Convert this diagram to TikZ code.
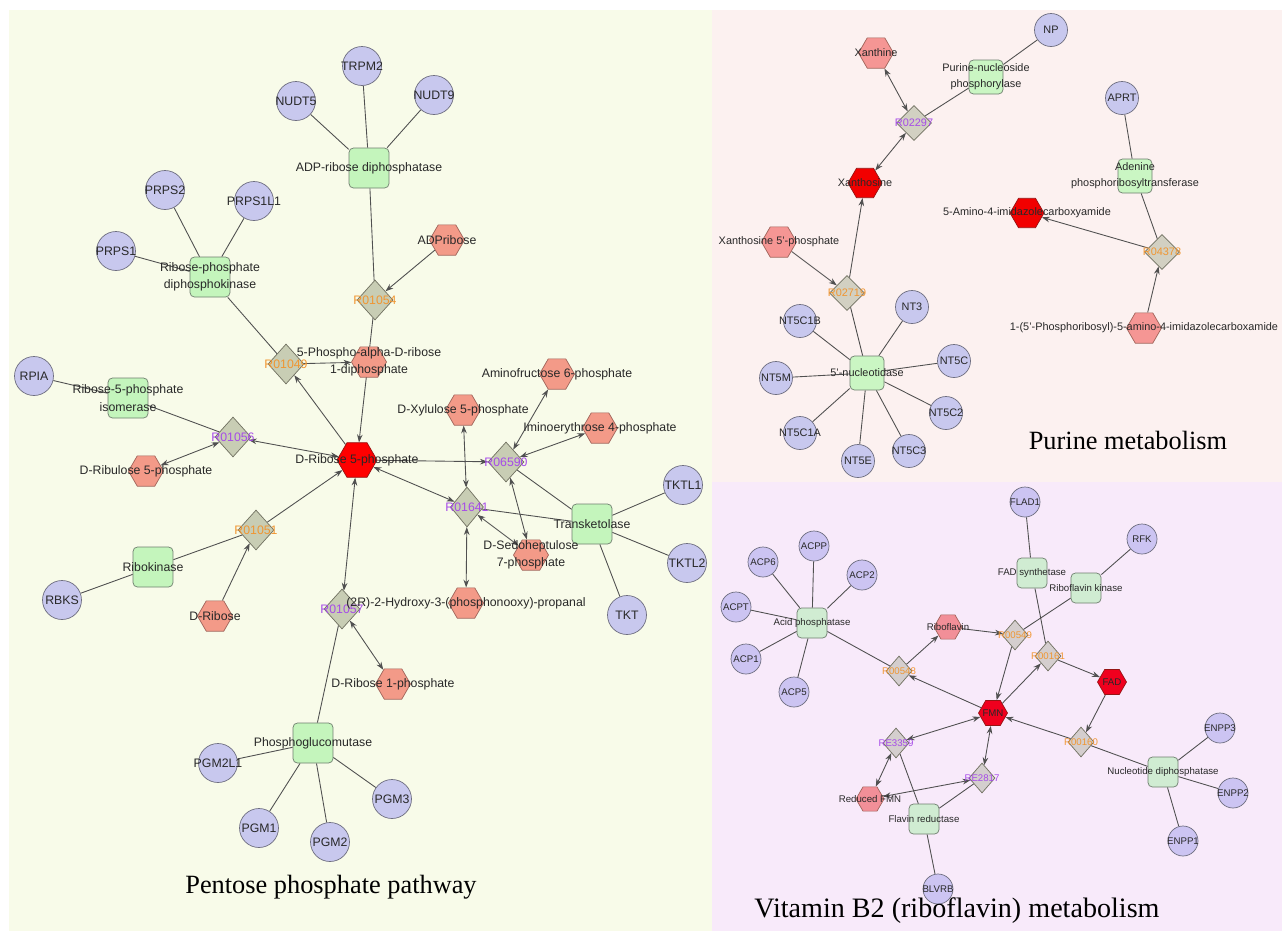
\documentclass[tikz,border=0pt]{standalone}
\usepackage{fontspec}
\setmainfont{Liberation Serif}
\setsansfont{Liberation Sans}
\usetikzlibrary{shapes.geometric,arrows.meta}
\definecolor{bgL}{RGB}{248,251,233}
\definecolor{bgP}{RGB}{252,241,240}
\definecolor{bgV}{RGB}{248,234,250}
\definecolor{edgec}{RGB}{80,80,80}
\definecolor{txt}{RGB}{40,40,40}
\definecolor{genefill}{RGB}{200,200,238}
\definecolor{genedraw}{RGB}{110,110,128}
\definecolor{enzfill}{RGB}{196,245,188}
\definecolor{enzdraw}{RGB}{110,126,110}
\definecolor{cpdfill}{RGB}{243,154,136}
\definecolor{cpddraw}{RGB}{160,100,90}
\definecolor{hubfill}{RGB}{255,0,0}
\definecolor{hubdraw}{RGB}{150,20,20}
\definecolor{rxnfill}{RGB}{200,205,180}
\definecolor{rxndraw}{RGB}{112,112,96}
\definecolor{rxorange}{RGB}{240,150,50}
\definecolor{rxpurple}{RGB}{166,75,232}
\pgfdeclarelayer{panel}
\pgfdeclarelayer{edges}
\pgfsetlayers{panel,edges,main}
\begin{document}
\begin{tikzpicture}[x=0.02cm,y=-0.02cm,
  every label/.style={font=\sffamily\fontsize{7}{10}\selectfont,text=txt,align=center,inner sep=0pt},
  gene/.style={circle,draw=genedraw,fill=genefill,inner sep=0pt,minimum size=0.78cm},
  enz/.style={rectangle,rounded corners=2.5pt,draw=enzdraw,fill=enzfill,inner sep=0pt,minimum size=0.8cm},
  cpd/.style={regular polygon,regular polygon sides=6,draw=cpddraw,fill=cpdfill,inner sep=0pt,minimum size=0.7cm},
  hub/.style={cpd,fill=hubfill,draw=hubdraw,minimum size=0.8cm},
  rxn/.style={diamond,draw=rxndraw,fill=rxnfill,inner sep=0pt,minimum width=0.72cm,minimum height=0.8cm},
  ro/.style={text=rxorange},
  rp/.style={text=rxpurple},
  lk/.style={draw=edgec,line width=0.5pt},
  fwd/.style={lk,-{Stealth[length=4.5pt,width=3.2pt]}},
  bi/.style={lk,{Stealth[length=4.5pt,width=3.2pt]}-{Stealth[length=4.5pt,width=3.2pt]}},
  ttl/.style={font=\fontsize{15}{18}\selectfont}]
\useasboundingbox (0,0) rectangle (1282,931);
\begin{pgfonlayer}{panel}
\fill[white] (0,0) rectangle (1282,931);
\fill[bgL] (9,10) rectangle (712,931);
\fill[bgP] (712,10) rectangle (1282,482);
\fill[bgV] (712,482) rectangle (1282,931);
\end{pgfonlayer}

% pentose phosphate pathway
\node[gene,label=center:TRPM2] (trpm2) at (362,66) {};
\node[gene,label=center:NUDT5] (nudt5) at (296,101) {};
\node[gene,label=center:NUDT9] (nudt9) at (434,95) {};
\node[enz,label=center:ADP-ribose diphosphatase] (adprd) at (369,168) {};
\node[cpd,label=center:ADPribose] (adpr) at (447,240) {};
\node[rxn,label={[ro]center:R01054}] (r01054) at (375,300) {};
\node[gene,label=center:PRPS2] (prps2) at (165,190) {};
\node[gene,label=center:PRPS1L1] (prps1l1) at (254,201) {};
\node[gene,label=center:PRPS1] (prps1) at (116,251) {};
\node[enz,label={center:{Ribose-phosphate\\diphosphokinase}}] (rpdk) at (210,277) {};
\node[rxn,label={[ro]center:R01049}] (r01049) at (286,364) {};
\node[cpd,label={center:{5-Phospho-alpha-D-ribose\\1-diphosphate}}] (prpp) at (369,362) {};
\node[gene,label=center:RPIA] (rpia) at (34,376) {};
\node[enz,label={center:{Ribose-5-phosphate\\isomerase}}] (rpi) at (128,398) {};
\node[rxn,label={[rp]center:R01056}] (r01056) at (233,437) {};
\node[cpd,label=center:D-Ribulose 5-phosphate] (ru5p) at (146,471) {};
\node[hub,label=center:D-Ribose 5-phosphate] (r5p) at (357,460) {};
\node[rxn,label={[ro]center:R01051}] (r01051) at (256,530) {};
\node[enz,label=center:Ribokinase] (rbk) at (153,567) {};
\node[gene,label=center:RBKS] (rbks) at (62,600) {};
\node[cpd,label=center:D-Ribose] (rib) at (215,616) {};
\node[rxn,label={[rp]center:R01057}] (r01057) at (342,609) {};
\node[cpd,label={center:{(2R)-2-Hydroxy-3-(phosphonooxy)-propanal}}] (hpp) at (466,603) {};
\node[cpd,label=center:D-Ribose 1-phosphate] (rib1p) at (393,684) {};
\node[enz,label=center:Phosphoglucomutase] (pgmut) at (313,743) {};
\node[gene,label=center:PGM2L1] (pgm2l1) at (218,763) {};
\node[gene,label=center:PGM1] (pgm1) at (259,828) {};
\node[gene,label=center:PGM2] (pgm2) at (330,842) {};
\node[gene,label=center:PGM3] (pgm3) at (392,799) {};
\node[cpd,label=center:Aminofructose 6-phosphate] (amf6p) at (557,374) {};
\node[cpd,label=center:D-Xylulose 5-phosphate] (xu5p) at (463,410) {};
\node[cpd,label=center:Iminoerythrose 4-phosphate] (ie4p) at (600,428) {};
\node[rxn,label={[rp]center:R06590}] (r06590) at (506,462) {};
\node[rxn,minimum width=0.66cm,label={[rp]center:R01641}] (r01641) at (467,507) {};
\node[enz,label=center:Transketolase] (tkase) at (592,524) {};
\node[gene,label=center:TKTL1] (tktl1) at (683,485) {};
\node[gene,label=center:TKTL2] (tktl2) at (687,563) {};
\node[gene,label=center:TKT] (tkt) at (627,615) {};
\node[cpd,label={center:{D-Sedoheptulose\\7-phosphate}}] (s7p) at (531,555) {};
\node[ttl] (tppp) at (331,887) {Pentose phosphate pathway};

% purine metabolism
\begin{scope}[every label/.append style={font=\sffamily\fontsize{6.2}{9}\selectfont},
  gene/.append style={minimum size=0.66cm},
  enz/.append style={minimum size=0.68cm,fill=enzfill!90!white},
  cpd/.append style={minimum size=0.7cm,fill={rgb,255:red,245;green,150;blue,148}},
  hub/.append style={minimum size=0.68cm,fill={rgb,255:red,242;green,0;blue,0}},
  rxn/.append style={minimum width=0.7cm,minimum height=0.7cm,fill={rgb,255:red,210;green,208;blue,194}}]
\node[gene,label=center:NP] (np) at (1051,30) {};
\node[cpd,label=center:Xanthine] (xan) at (876,53) {};
\node[enz,label={center:{Purine-nucleoside\\phosphorylase}}] (pnp) at (986,77) {};
\node[rxn,label={[rp]center:R02297}] (r02297) at (914,123) {};
\node[gene,label=center:APRT] (aprt) at (1122,98) {};
\node[enz,label={center:{Adenine\\phosphoribosyltransferase}}] (aprtase) at (1135,176) {};
\node[hub,label=center:Xanthosine] (xao) at (865,183) {};
\node[hub,label=center:5-Amino-4-imidazolecarboxyamide] (aica) at (1027,213) {};
\node[cpd,label=center:Xanthosine 5'-phosphate] (xmp) at (779,242) {};
\node[rxn,label={[ro]center:R02719}] (r02719) at (847,293) {};
\node[rxn,label={[ro]center:R04378}] (r04378) at (1162,252) {};
\node[cpd,label={center:{1-(5'-Phosphoribosyl)-5-amino-4-imidazolecarboxamide}}] (aicar) at (1144,328) {};
\node[enz,label=center:5'-nucleotidase] (nt5) at (867,373) {};
\node[gene,label=center:NT5C1B] (nt5c1b) at (800,321) {};
\node[gene,label=center:NT3] (nt3) at (912,307) {};
\node[gene,label=center:NT5C] (nt5c) at (954,361) {};
\node[gene,label=center:NT5M] (nt5m) at (776,378) {};
\node[gene,label=center:NT5C2] (nt5c2) at (946,413) {};
\node[gene,label=center:NT5C1A] (nt5c1a) at (800,433) {};
\node[gene,label=center:NT5C3] (nt5c3) at (909,451) {};
\node[gene,label=center:NT5E] (nt5e) at (858,461) {};
\end{scope}
\node[ttl] (tpur) at (1128,440) {Purine metabolism};

% vitamin B2 metabolism
\begin{scope}[every label/.append style={font=\sffamily\fontsize{5.5}{8}\selectfont},
  gene/.append style={minimum size=0.6cm,fill={rgb,255:red,204;green,196;blue,242}},
  enz/.append style={minimum size=0.6cm,fill={rgb,255:red,208;green,236;blue,210}},
  cpd/.append style={minimum size=0.56cm,fill={rgb,255:red,242;green,143;blue,152}},
  hub/.append style={minimum size=0.58cm,fill={rgb,255:red,240;green,0;blue,30}},
  rxn/.append style={minimum width=0.52cm,minimum height=0.6cm,fill={rgb,255:red,212;green,206;blue,206}}]
\node[gene,label=center:FLAD1] (flad1) at (1025,502) {};
\node[gene,label=center:RFK] (rfk) at (1142,539) {};
\node[enz,label=center:FAD synthetase] (fads) at (1032,573) {};
\node[enz,label=center:Riboflavin kinase] (rfkase) at (1086,588) {};
\node[gene,label=center:ACP6] (acp6) at (763,562) {};
\node[gene,label=center:ACPP] (acpp) at (814,546) {};
\node[gene,label=center:ACP2] (acp2) at (862,575) {};
\node[gene,label=center:ACPT] (acpt) at (736,607) {};
\node[enz,label=center:Acid phosphatase] (acpase) at (812,623) {};
\node[gene,label=center:ACP1] (acp1) at (746,659) {};
\node[gene,label=center:ACP5] (acp5) at (794,692) {};
\node[cpd,label=center:Riboflavin] (ribf) at (948,627) {};
\node[rxn,label={[ro]center:R00548}] (r00548) at (899,671) {};
\node[rxn,label={[ro]center:R00549}] (r00549) at (1015,635) {};
\node[rxn,label={[ro]center:R00161}] (r00161) at (1048,656) {};
\node[hub,label=center:FAD] (fad) at (1112,682) {};
\node[hub,label=center:FMN] (fmn) at (993,713) {};
\node[rxn,label={[rp]center:RE3359}] (re3359) at (896,743) {};
\node[rxn,label={[rp]center:RE2817}] (re2817) at (982,778) {};
\node[cpd,label=center:Reduced FMN] (fmnh) at (870,799) {};
\node[enz,label=center:Flavin reductase] (flvr) at (924,819) {};
\node[gene,label=center:BLVRB] (blvrb) at (938,889) {};
\node[rxn,label={[ro]center:R00160}] (r00160) at (1081,742) {};
\node[enz,label=center:Nucleotide diphosphatase] (ndp) at (1163,772) {};
\node[gene,label=center:ENPP3] (enpp3) at (1220,728) {};
\node[gene,label=center:ENPP2] (enpp2) at (1233,793) {};
\node[gene,label=center:ENPP1] (enpp1) at (1183,841) {};
\end{scope}
\node[ttl,font=\fontsize{16}{19}\selectfont] (tvb2) at (957,911) {Vitamin B2 (riboflavin) metabolism};

\begin{pgfonlayer}{edges}
\draw[lk] (trpm2) -- (adprd) (nudt5) -- (adprd) (nudt9) -- (adprd) (adprd) -- (r01054)
  (prps2) -- (rpdk) (prps1l1) -- (rpdk) (prps1) -- (rpdk) (rpdk) -- (r01049)
  (rpia) -- (rpi) (rpi) -- (r01056) (rbks) -- (rbk) (rbk) -- (r01051)
  (r01057) -- (pgmut) (pgm2l1) -- (pgmut) (pgm1) -- (pgmut) (pgm2) -- (pgmut) (pgm3) -- (pgmut)
  (r01641) -- (tkase) (r06590) -- (tkase) (tktl1) -- (tkase) (tktl2) -- (tkase) (tkt) -- (tkase);
\draw[fwd] (adpr) -- (r01054);
\draw[fwd] (r01054) -- (r5p);
\draw[fwd] (r5p) -- (r01049);
\draw[fwd] (r01049) -- (prpp);
\draw[bi] (r5p) -- (r01056);
\draw[bi] (r01056) -- (ru5p);
\draw[fwd] (rib) -- (r01051);
\draw[fwd] (r01051) -- (r5p);
\draw[bi] (r5p) -- (r01057);
\draw[bi] (r01057) -- (rib1p);
\draw[bi] (r5p) -- (r01641);
\draw[bi] (xu5p) -- (r01641);
\draw[bi] (r01641) -- (hpp);
\draw[bi] (r01641) -- (s7p);
\draw[fwd] (r5p) -- (r06590);
\draw[bi] (r06590) -- (amf6p);
\draw[bi] (r06590) -- (ie4p);
\draw[bi] (r06590) -- (s7p);

\draw[lk] (np) -- (pnp) (pnp) -- (r02297) (aprt) -- (aprtase) (aprtase) -- (r04378)
  (r02719) -- (nt5) (nt5c1b) -- (nt5) (nt3) -- (nt5) (nt5c) -- (nt5) (nt5m) -- (nt5)
  (nt5c2) -- (nt5) (nt5c1a) -- (nt5) (nt5c3) -- (nt5) (nt5e) -- (nt5);
\draw[bi] (xan) -- (r02297);
\draw[bi] (r02297) -- (xao);
\draw[fwd] (xmp) -- (r02719);
\draw[fwd] (r02719) -- (xao);
\draw[fwd] (aicar) -- (r04378);
\draw[fwd] (r04378) -- (aica);

\draw[lk] (flad1) -- (fads) (fads) -- (r00161) (rfk) -- (rfkase) (rfkase) -- (r00549)
  (acp6) -- (acpase) (acpp) -- (acpase) (acp2) -- (acpase) (acpt) -- (acpase)
  (acp1) -- (acpase) (acp5) -- (acpase) (acpase) -- (r00548)
  (flvr) -- (re3359) (flvr) -- (re2817) (blvrb) -- (flvr)
  (ndp) -- (r00160) (enpp3) -- (ndp) (enpp2) -- (ndp) (enpp1) -- (ndp);
\draw[fwd] (fmn) -- (r00548);
\draw[fwd] (r00548) -- (ribf);
\draw[fwd] (ribf) -- (r00549);
\draw[fwd] (r00549) -- (fmn);
\draw[fwd] (fmn) -- (r00161);
\draw[fwd] (r00161) -- (fad);
\draw[fwd] (fad) -- (r00160);
\draw[fwd] (r00160) -- (fmn);
\draw[bi] (fmn) -- (re3359);
\draw[bi] (re3359) -- (fmnh);
\draw[bi] (fmn) -- (re2817);
\draw[bi] (fmnh) -- (re2817);
\end{pgfonlayer}
\end{tikzpicture}
\end{document}
